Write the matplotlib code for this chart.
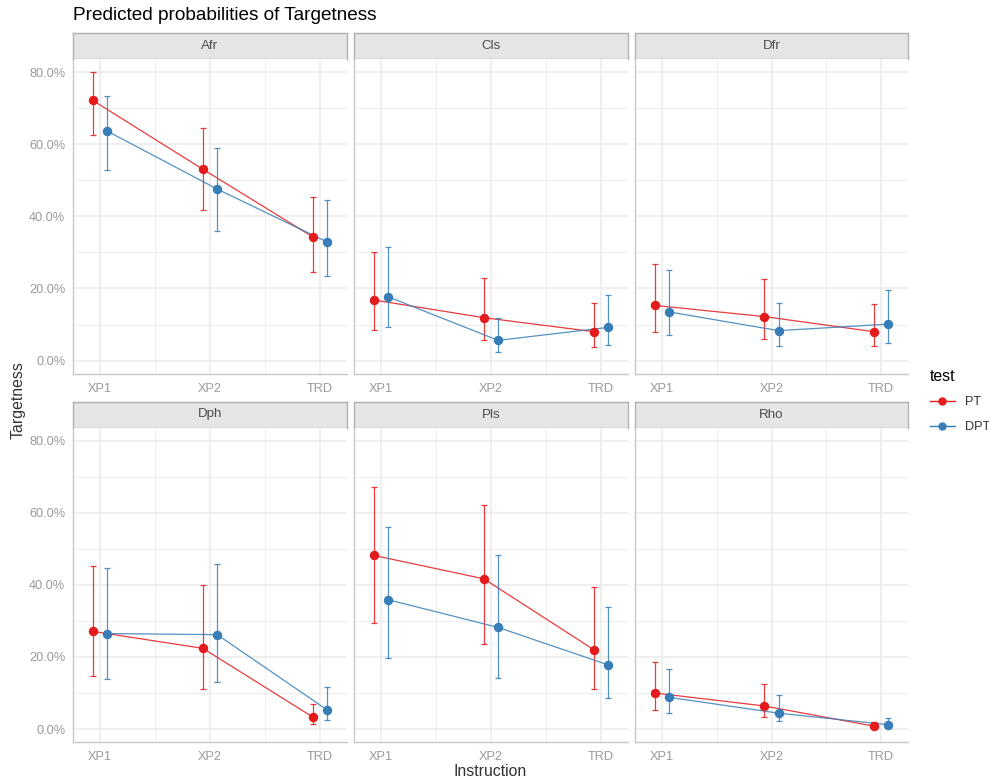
import matplotlib
matplotlib.use("Agg")
import matplotlib.pyplot as plt
from matplotlib.lines import Line2D
from matplotlib.ticker import FuncFormatter, MultipleLocator
import numpy as np

plt.rcParams['font.family'] = ['Liberation Sans', 'DejaVu Sans']

# predicted probabilities (%) with confidence intervals
panels = ['Afr', 'Cls', 'Dfr', 'Dph', 'Pls', 'Rho']
instructions = ['XP1', 'XP2', 'TRD']
tests = ['PT', 'DPT']
colors = {'PT': '#E41A1C', 'DPT': '#377EB8'}

pt_est = {
    'Afr': [72.2, 53.1, 34.3],
    'Cls': [16.8, 11.9, 8.0],
    'Dfr': [15.3, 12.2, 8.0],
    'Dph': [27.1, 22.4, 3.3],
    'Pls': [48.2, 41.7, 22.0],
    'Rho': [10.0, 6.4, 0.8],
}
pt_low = {
    'Afr': [62.6, 41.8, 24.6],
    'Cls': [8.6, 5.7, 3.7],
    'Dfr': [8.0, 6.0, 4.0],
    'Dph': [14.6, 11.1, 1.5],
    'Pls': [29.5, 23.7, 11.1],
    'Rho': [5.2, 3.3, 0.3],
}
pt_high = {
    'Afr': [80.0, 64.5, 45.4],
    'Cls': [30.2, 22.9, 15.9],
    'Dfr': [26.9, 22.6, 15.6],
    'Dph': [45.3, 40.0, 7.0],
    'Pls': [67.3, 62.1, 39.3],
    'Rho': [18.6, 12.5, 1.9],
}
dpt_est = {
    'Afr': [63.7, 47.6, 32.9],
    'Cls': [17.7, 5.6, 9.2],
    'Dfr': [13.5, 8.3, 10.1],
    'Dph': [26.5, 26.2, 5.3],
    'Pls': [35.9, 28.2, 17.8],
    'Rho': [8.8, 4.4, 1.2],
}
dpt_low = {
    'Afr': [52.9, 36.0, 23.5],
    'Cls': [9.2, 2.5, 4.3],
    'Dfr': [7.2, 4.0, 4.9],
    'Dph': [13.8, 13.1, 2.4],
    'Pls': [19.8, 14.3, 8.5],
    'Rho': [4.4, 2.1, 0.3],
}
dpt_high = {
    'Afr': [73.4, 59.0, 44.6],
    'Cls': [31.6, 11.7, 18.2],
    'Dfr': [25.0, 16.1, 19.7],
    'Dph': [44.6, 45.8, 11.7],
    'Pls': [56.0, 48.2, 34.0],
    'Rho': [16.6, 9.4, 3.0],
}

series = {
    'PT': (pt_est, pt_low, pt_high),
    'DPT': (dpt_est, dpt_low, dpt_high),
}

W, H = 989, 782
fig = plt.figure(figsize=(W / 100, H / 100), dpi=100)


def px_axes(x0, y0, x1, y1):
    return fig.add_axes([x0 / W, 1 - y1 / H, (x1 - x0) / W, (y1 - y0) / H])


col_x = [(73, 347), (354, 628), (635, 908)]
row_y = [(33, 59, 373.5), (401.5, 427.5, 742)]
dodge = {'PT': -0.065, 'DPT': 0.065}
pct = FuncFormatter(lambda v, _: f'{v:.1f}%')
grid_c = '#EBEBEB'
tick_c = '#9A9A9A'

for i, name in enumerate(panels):
    r, c = divmod(i, 3)
    x0, x1 = col_x[c]
    st, pt, pb = row_y[r]

    # strip label
    sax = px_axes(x0, st, x1, pt)
    sax.set_facecolor('#E5E5E5')
    sax.set_xticks([])
    sax.set_yticks([])
    for sp in sax.spines.values():
        sp.set_color('#B0B0B0')
        sp.set_linewidth(1.0)
    sax.text(0.5, 0.5, name, ha='center', va='center', fontsize=9.6,
             color='#4D4D4D', transform=sax.transAxes)

    ax = px_axes(x0, pt, x1, pb)
    ax.set_xlim(0.755, 3.245)
    ax.set_ylim(-3.6, 83.7)
    ax.yaxis.set_major_locator(MultipleLocator(20))
    ax.yaxis.set_minor_locator(MultipleLocator(10))
    ax.set_xticks([1, 2, 3])
    ax.set_xticks([1.5, 2.5], minor=True)
    ax.grid(which='major', color=grid_c, linewidth=1.1)
    ax.grid(which='minor', color=grid_c, linewidth=0.6)
    ax.set_axisbelow(True)
    for side in ['top', 'right']:
        ax.spines[side].set_visible(False)
    for side in ['left', 'bottom']:
        ax.spines[side].set_color('#C8C8C8')
        ax.spines[side].set_linewidth(1.0)
    ax.tick_params(which='both', length=0, colors=tick_c, labelsize=9.2)
    ax.tick_params(axis='x', pad=6.5)
    ax.tick_params(axis='y', pad=5.5)

    if c == 0:
        ax.yaxis.set_major_formatter(pct)
    else:
        ax.set_yticklabels([])
    ax.set_xticklabels(instructions)

    xs = np.arange(1, len(instructions) + 1)
    for t in tests:
        est, low, high = (d[name] for d in series[t])
        xx = xs + dodge[t]
        est = np.array(est)
        ax.plot(xx, est, color=colors[t], linewidth=0.9, alpha=0.85, zorder=3)
        ax.errorbar(xx, est,
                    yerr=[est - np.array(low), np.array(high) - est],
                    fmt='none', ecolor=colors[t], elinewidth=0.9,
                    capsize=2.3, capthick=0.9, alpha=0.85, zorder=3)
        ax.plot(xx, est, 'o', color=colors[t], markersize=5.8, zorder=4)

fig.text(73 / W, 1 - 16 / H, 'Predicted probabilities of Targetness',
         fontsize=13.7, color='black', ha='left', va='center')
fig.text(18 / W, 1 - 400 / H, 'Targetness', rotation=90, fontsize=11.4,
         color='#333333', ha='center', va='center')
fig.text(490 / W, 1 - 772 / H, 'Instruction', fontsize=11.4,
         color='#333333', ha='center', va='center')

handles = [Line2D([], [], color=colors[t], marker='o', markersize=5,
                  linewidth=1.0) for t in tests]
fig.legend(handles, tests, title='test', loc='upper left',
           bbox_to_anchor=(918 / W, 1 - 357 / H), frameon=False,
           fontsize=9.2, title_fontsize=11.4, handlelength=2.0,
           labelspacing=1.0, alignment='left', labelcolor='#333333')

fig.savefig('out.png', dpi=100)
